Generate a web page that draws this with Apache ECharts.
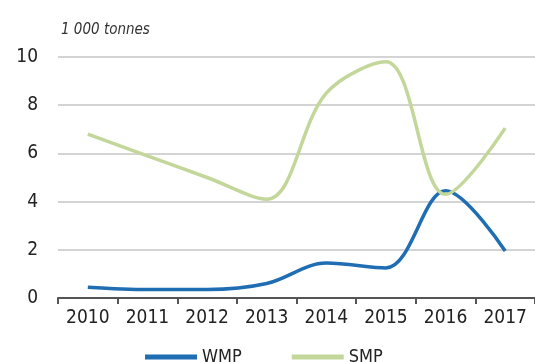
<!DOCTYPE html>
<html><head><meta charset="utf-8">
<script src="https://cdn.jsdelivr.net/npm/echarts@6/dist/echarts.min.js"></script>
<style>html,body{margin:0;padding:0;background:#fff}#c{width:535px;height:362px}</style>
</head><body><div id="c"></div>
<script>
const years = ['2010','2011','2012','2013','2014','2015','2016','2017'];
const wmp = [0.45, 0.35, 0.35, 0.6, 1.45, 1.25, 4.45, 1.95];
const smp = [6.8, 5.9, 5.0, 4.1, 8.5, 9.8, 4.3, 7.05];
const yTicks = [0, 2, 4, 6, 8, 10];
const font = 'DejaVu Sans Condensed, Open Sans, sans-serif';
const chart = echarts.init(document.getElementById('c'));
chart.setOption({
  animation: false,
  title: { text: '1 000 tonnes', left: 56, top: 18,
    textStyle: { fontStyle: 'italic', fontWeight: 'normal', fontSize: 15, color: '#333', fontFamily: font } },
  legend: { bottom: -9, left: 140, itemWidth: 52, itemHeight: 5, itemGap: 50, icon: 'rect',
    textStyle: { fontSize: 18, color: '#222', fontFamily: font }, data: ['WMP', 'SMP'] },
  grid: { left: 58, right: 0, top: 57, bottom: 64 },
  xAxis: { type: 'category', data: years, boundaryGap: true,
    axisLine: { lineStyle: { color: '#555', width: 2 } },
    axisTick: { show: true, length: 6, lineStyle: { color: '#555', width: 2 } },
    axisLabel: { fontSize: 19, color: '#222', fontFamily: font, margin: 11 } },
  yAxis: { type: 'value', min: 0, max: 10, interval: 2,
    axisLine: { show: false }, axisTick: { show: false },
    axisLabel: { fontSize: 19, color: '#222', fontFamily: font, margin: 20 },
    splitLine: { lineStyle: { color: '#d4d4d4', width: 2 } } },
  series: [
    { name: 'WMP', type: 'line', data: wmp, smooth: 0.35, symbol: 'none',
      lineStyle: { color: '#1f6db3', width: 3.5 }, itemStyle: { color: '#1f6db3' } },
    { name: 'SMP', type: 'line', data: smp, smooth: 0.35, symbol: 'none',
      lineStyle: { color: '#c4d79b', width: 3.5 }, itemStyle: { color: '#c4d79b' } }
  ]
});
</script></body></html>
